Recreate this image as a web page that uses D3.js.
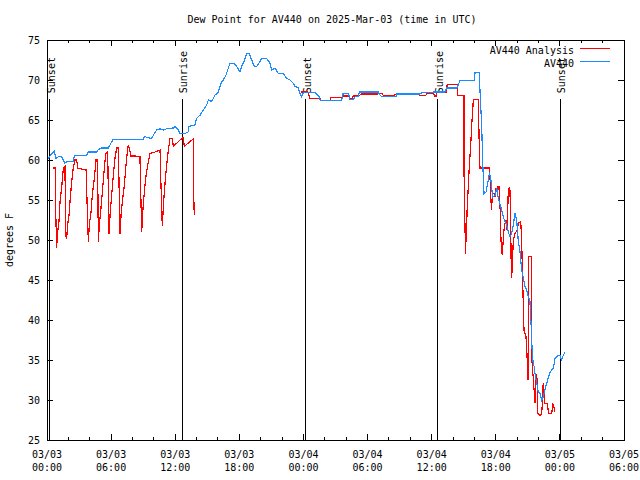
<!DOCTYPE html>
<html>
<head>
<meta charset="utf-8">
<script src="https://cdn.jsdelivr.net/npm/d3@7"></script>
<style>
  body { margin: 0; background: #fff; }
  text { font-family: "DejaVu Sans Mono", monospace; font-size: 10px; fill: #000; }
</style>
</head>
<body>
<div id="chart"></div>
<script>
// hours after 2025-03-03 00:00 UTC, dew point in deg F
const obsHours = [0.12,0.44,0.69,0.84,1.06,1.37,1.53,1.68,1.84,2.46,2.56,3.71,3.87,4.65,4.8,5.12,5.74,5.9,6.2,9.01,9.17,9.33,9.8,10.04,10.27,10.58,10.88,11.2,11.82,11.98,12.29,12.45,12.9,13.2,13.3,13.85,14.0,14.32,14.63,14.95,15.1,15.4,15.72,16.03,16.35,16.5,16.75,16.97,17.13,17.44,17.75,18.06,18.22,18.37,18.69,18.93,19.16,19.4,19.63,19.93,20.1,20.56,20.87,21.03,21.34,21.65,22.1,22.43,22.74,23.05,23.2,23.52,23.68,23.84,24.0,25.08,25.24,25.45,25.6,27.58,27.67,28.2,28.36,28.67,28.83,29.14,29.23,31.0,31.17,31.32,32.73,32.75,34.91,35.07,36.15,36.2,37.25,37.4,38.34,38.49,38.65,39.96,40.06,40.46,40.52,40.68,40.77,40.83,40.9,41.09,41.3,41.4,41.52,41.6,41.71,41.93,42.09,42.24,42.4,42.55,42.7,42.86,43.02,43.17,43.33,43.49,43.64,43.8,43.96,44.02,44.1,44.27,44.42,44.58,44.74,44.9,45.05,45.2,45.3,45.36,45.42,45.52,45.6,45.67,45.83,45.98,46.14,46.3,46.45,46.55,46.77,46.93,47.08,47.24,47.4,47.54,47.7,47.86,48.0,48.17,48.32,48.48];
const obsValues = [60.2,60.8,61.1,60.2,60.4,60.4,60.0,59.6,59.8,59.8,60.6,60.6,61.0,61.0,61.3,61.5,61.5,61.9,62.6,62.6,63.0,62.8,62.7,63.3,63.75,63.9,63.75,63.9,64.0,64.2,63.75,63.3,63.3,63.5,64.2,64.4,65.2,65.6,66.25,66.9,67.5,67.3,68.1,68.5,69.8,70.0,70.6,71.5,72.1,72.1,71.7,71.0,71.7,72.1,73.3,73.3,72.5,71.7,71.7,72.3,72.7,72.7,72.1,71.25,71.5,70.8,70.8,70.2,70.0,69.6,69.2,69.0,68.3,67.9,68.4,68.4,68.25,68.0,67.4,67.4,68.25,68.3,67.6,67.6,67.9,67.9,68.5,68.5,68.1,67.9,67.9,68.25,68.25,68.4,68.4,68.5,68.5,69.0,69.0,69.4,69.9,69.9,70.9,70.9,68.75,64.3,60.0,57.9,55.8,56.0,57.5,58.3,57.9,56.7,55.4,55.6,56.5,55.2,54.4,53.75,52.9,52.3,51.9,51.0,50.4,50.8,51.9,53.3,52.5,51.25,50.0,48.5,46.3,45.2,44.2,43.75,42.9,42.3,39.6,37.5,35.8,34.4,34.2,33.3,32.1,31.0,30.8,30.0,30.4,31.0,32.1,32.9,33.5,33.75,34.0,35.2,35.4,35.6,35.6,35.0,35.6,36.0];

// analysis series, null marks the gap
const anaHours = [0.59,0.81,0.81,0.9,1.0,1.12,1.22,1.37,1.53,1.68,1.75,1.84,1.93,2.06,2.15,2.31,2.46,2.62,2.78,2.87,3.56,3.71,3.71,3.81,3.87,3.96,4.12,4.24,4.43,4.59,4.74,4.8,4.9,5.05,5.18,5.37,5.49,5.68,5.8,5.9,6.05,6.21,6.36,6.52,6.68,6.83,6.93,7.05,7.24,7.37,7.52,7.61,7.71,7.86,8.24,8.7,8.86,8.96,9.11,9.27,9.48,9.64,10.11,10.58,10.67,10.79,10.88,10.98,11.11,11.3,11.51,11.73,11.82,12.14,12.45,12.76,12.85,13.38,13.69,13.69,13.78,
  18.0,
  23.8,24.4,24.6,25.55,25.6,26.5,26.55,27.6,27.67,28.3,28.36,28.6,28.65,29.2,29.4,30.95,31.1,31.4,31.45,32.5,32.7,34.3,34.45,34.75,34.9,35.45,35.55,36.15,36.3,36.45,36.47,37.4,37.45,38.4,38.45,39.03,39.03,39.1,39.17,39.2,39.27,39.33,39.43,39.52,39.65,39.74,39.84,39.9,40.37,40.43,40.46,40.52,41.4,41.46,41.52,41.61,41.65,41.71,41.83,41.93,41.99,42.08,42.18,42.3,42.33,42.4,42.46,42.49,42.55,42.61,42.7,42.77,42.86,42.96,43.02,43.11,43.17,43.27,43.33,43.4,43.43,43.49,43.58,43.64,43.8,44.02,44.12,44.34,44.42,44.5,44.58,44.64,44.83,44.9,45.02,45.05,45.05,45.36,45.36,45.52,45.67,45.73,45.83,45.89,45.92,46.14,46.3,46.36,46.39,46.45,46.52,46.55,46.83,46.93,47.24,47.33,47.46,47.54];
const anaValues = [59.0,59.0,54.0,49.0,51.0,52.3,54.8,56.5,59.0,59.2,50.6,50.2,51.9,53.1,54.8,57.3,59.0,60.0,60.0,59.0,58.75,58.75,56.5,52.1,49.8,51.9,53.5,55.6,57.7,60.0,60.0,49.8,51.9,54.0,56.0,59.0,60.8,61.0,50.8,53.1,55.6,58.1,60.2,61.5,61.5,50.8,53.1,54.8,56.9,59.0,61.0,61.9,61.5,60.5,60.5,60.4,51.0,53.5,56.0,58.1,59.8,60.8,61.0,61.25,56.7,51.7,54.0,56.0,58.1,60.6,62.7,62.7,61.7,62.1,62.5,62.8,61.7,62.3,62.6,57.9,53.1,
  null,
  68.5,68.5,67.7,67.7,67.4,67.4,67.8,67.8,68.0,68.0,67.7,67.7,68.0,68.0,68.25,68.25,68.3,68.3,68.1,68.1,68.25,68.25,68.3,68.3,68.1,68.1,68.3,68.3,68.0,68.0,68.5,68.5,69.4,69.4,68.1,68.1,58.4,52.9,48.3,49.6,51.7,54.2,56.7,59.2,61.7,64.2,66.25,67.5,67.6,63.3,61.25,59.0,59.0,57.9,55.4,53.75,55.0,55.8,55.8,55.4,56.5,56.0,56.7,56.7,55.4,54.2,51.25,50.0,48.75,48.1,50.0,51.25,52.1,52.5,51.25,53.3,56.25,56.5,56.25,51.7,47.9,45.3,47.9,50.0,50.8,51.25,52.1,52.3,50.0,45.8,41.7,38.75,37.9,36.25,32.5,37.5,47.9,47.9,35.4,32.5,29.6,32.5,33.3,31.7,28.3,28.1,28.3,29.6,31.25,32.1,30.4,29.6,29.6,28.3,28.3,29.6,29.0,28.5];

const sunHours = [0.25, 12.65, 24.2, 36.55, 48.05];
const sunLabels = ["Sunset", "Sunrise", "Sunset", "Sunrise", "Sunset"];
const yTicks = [25, 30, 35, 40, 45, 50, 55, 60, 65, 70, 75];

const width = 640, height = 480;
const margin = { top: 40, right: 16, bottom: 40, left: 47 };
const t0 = Date.UTC(2025, 2, 3, 0, 0);
const toDate = h => new Date(t0 + h * 3600e3);

const svg = d3.select("#chart").append("svg")
  .attr("width", width).attr("height", height);

const x = d3.scaleUtc()
  .domain([new Date(t0), new Date(Date.UTC(2025, 2, 5, 6, 0))])
  .range([margin.left, width - margin.right]);
const y = d3.scaleLinear().domain([25, 75]).range([height - margin.bottom, margin.top]);

const majorTicks = x.ticks(d3.utcHour.every(6));
const minorTicks = x.ticks(d3.utcHour.every(2)).filter(d => d.getUTCHours() % 6 !== 0);

const g = svg.append("g").attr("stroke", "#000").attr("stroke-width", 1).attr("shape-rendering", "crispEdges");
const [x0, x1] = x.range(), [yb, yt] = y.range();

// ticks on all four sides, pointing inward
majorTicks.forEach(d => {
  g.append("line").attr("x1", x(d)).attr("x2", x(d)).attr("y1", yb).attr("y2", yb - 6);
  g.append("line").attr("x1", x(d)).attr("x2", x(d)).attr("y1", yt).attr("y2", yt + 6);
});
minorTicks.forEach(d => {
  g.append("line").attr("x1", x(d)).attr("x2", x(d)).attr("y1", yb).attr("y2", yb - 3);
  g.append("line").attr("x1", x(d)).attr("x2", x(d)).attr("y1", yt).attr("y2", yt + 3);
});
yTicks.forEach(v => {
  g.append("line").attr("x1", x0).attr("x2", x0 + 6).attr("y1", y(v)).attr("y2", y(v));
  g.append("line").attr("x1", x1).attr("x2", x1 - 6).attr("y1", y(v)).attr("y2", y(v));
});

svg.selectAll(".ylab").data(yTicks).enter().append("text")
  .attr("x", x0 - 7).attr("y", d => y(d)).attr("dy", "0.35em")
  .attr("text-anchor", "end").text(d => d);

const fmtDay = d3.utcFormat("%m/%d"), fmtTime = d3.utcFormat("%H:%M");
const xl = svg.selectAll(".xlab").data(majorTicks).enter().append("text")
  .attr("text-anchor", "middle");
xl.append("tspan").attr("x", d => x(d)).attr("y", yb + 18).text(fmtDay);
xl.append("tspan").attr("x", d => x(d)).attr("y", yb + 31).text(fmtTime);

// sunrise / sunset markers
const lineTop = y(67.6);
sunHours.forEach((h, i) => {
  g.append("line").attr("x1", x(toDate(h))).attr("x2", x(toDate(h)))
    .attr("y1", lineTop).attr("y2", yb);
  svg.append("text")
    .attr("transform", `translate(${x(toDate(h)) + 5},${lineTop - 6}) rotate(-90)`)
    .attr("text-anchor", "start").text(sunLabels[i]);
});

const line = d3.line()
  .defined(d => d[1] != null)
  .x(d => x(toDate(d[0])))
  .y(d => y(d[1]));

svg.append("path")
  .datum(anaHours.map((h, i) => [h, anaValues[i]]))
  .attr("fill", "none").attr("stroke", "#ff0000").attr("stroke-width", 1.2)
  .attr("shape-rendering", "crispEdges")
  .attr("d", line);

svg.append("path")
  .datum(obsHours.map((h, i) => [h, obsValues[i]]))
  .attr("fill", "none").attr("stroke", "#1a8cff").attr("stroke-width", 1.2)
  .attr("shape-rendering", "crispEdges")
  .attr("d", line);

// frame
svg.append("rect")
  .attr("x", x0).attr("y", yt).attr("width", x1 - x0).attr("height", yb - yt)
  .attr("fill", "none").attr("stroke", "#000").attr("shape-rendering", "crispEdges");

// legend
const legend = [["AV440 Analysis", "#ff0000"], ["AV440", "#1a8cff"]];
legend.forEach((l, i) => {
  const ly = 50 + i * 13;
  svg.append("text").attr("x", 574).attr("y", ly).attr("dy", "0.35em")
    .attr("text-anchor", "end").text(l[0]);
  svg.append("line").attr("x1", 580).attr("x2", 610).attr("y1", ly - 2).attr("y2", ly - 2)
    .attr("stroke", l[1]).attr("shape-rendering", "crispEdges");
});

svg.append("text").attr("x", 332).attr("y", 23).attr("text-anchor", "middle")
  .text("Dew Point for AV440 on 2025-Mar-03 (time in UTC)");

svg.append("text")
  .attr("transform", `translate(13,${(yt + yb) / 2}) rotate(-90)`)
  .attr("text-anchor", "middle").text("degrees F");
</script>
</body>
</html>
